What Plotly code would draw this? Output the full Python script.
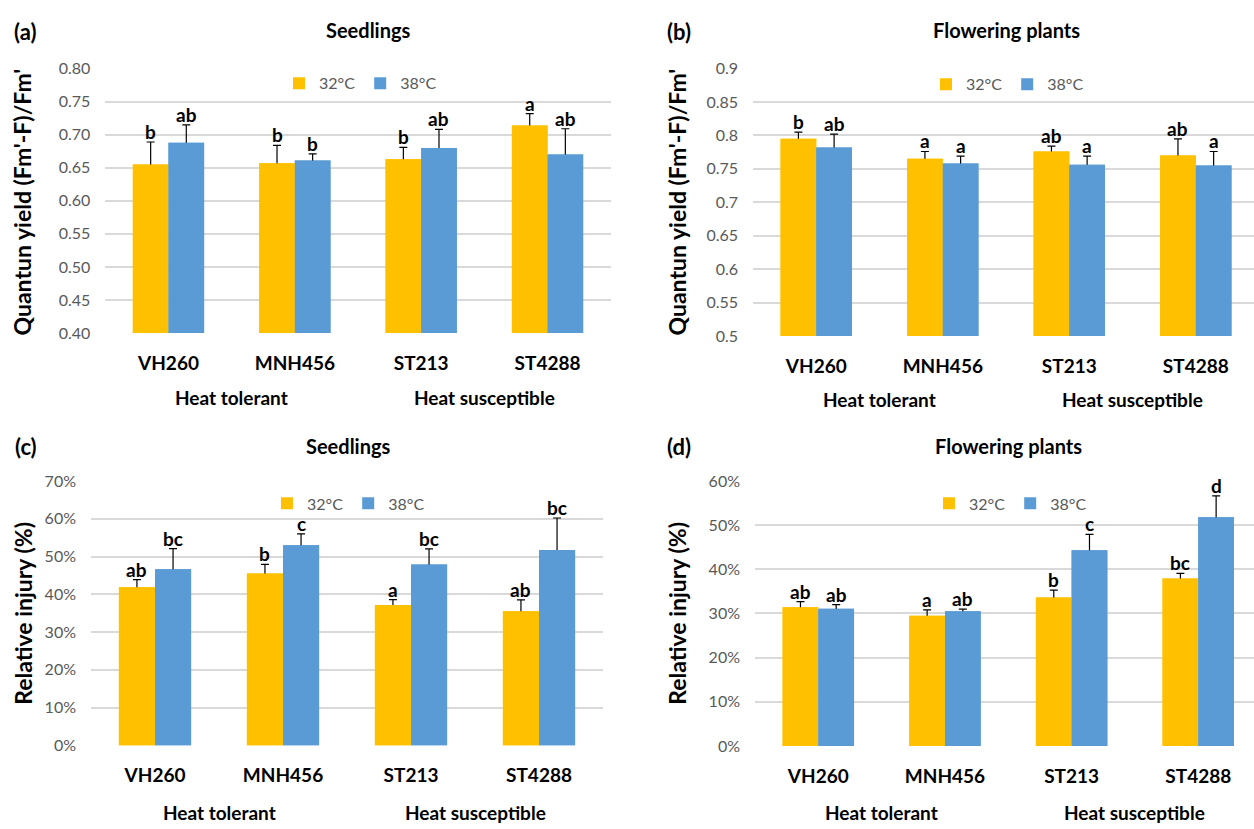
import plotly.graph_objects as go

# ---------------------------------------------------------------- data
cultivars = ["VH260", "MNH456", "ST213", "ST4288"]
temperatures = ["32°C", "38°C"]
tolerance_groups = ["Heat tolerant", "Heat susceptible"]

# (a) quantum yield, seedlings
yield_seed_32 = [0.655, 0.657, 0.663, 0.714]
yield_seed_32_se = [0.034, 0.027, 0.018, 0.018]
yield_seed_38 = [0.688, 0.661, 0.680, 0.670]
yield_seed_38_se = [0.027, 0.010, 0.028, 0.039]
yield_seed_32_sig = ["b", "b", "b", "a"]
yield_seed_38_sig = ["ab", "b", "ab", "ab"]

# (b) quantum yield, flowering plants
yield_flow_32 = [0.795, 0.765, 0.776, 0.770]
yield_flow_32_se = [0.010, 0.011, 0.008, 0.025]
yield_flow_38 = [0.782, 0.758, 0.756, 0.755]
yield_flow_38_se = [0.020, 0.011, 0.013, 0.021]
yield_flow_32_sig = ["b", "a", "ab", "ab"]
yield_flow_38_sig = ["ab", "a", "a", "a"]

# (c) relative injury (%), seedlings
injury_seed_32 = [41.9, 45.5, 37.2, 35.5]
injury_seed_32_se = [2.0, 2.4, 1.4, 3.0]
injury_seed_38 = [46.6, 53.0, 47.9, 51.7]
injury_seed_38_se = [5.5, 3.0, 4.1, 8.5]
injury_seed_32_sig = ["ab", "b", "a", "ab"]
injury_seed_38_sig = ["bc", "c", "bc", "bc"]

# (d) relative injury (%), flowering plants
injury_flow_32 = [31.4, 29.5, 33.6, 37.9]
injury_flow_32_se = [1.3, 1.3, 1.7, 1.2]
injury_flow_38 = [31.1, 30.5, 44.3, 51.8]
injury_flow_38_se = [0.9, 0.5, 3.6, 4.8]
injury_flow_32_sig = ["ab", "a", "b", "bc"]
injury_flow_38_sig = ["ab", "ab", "c", "d"]

# ---------------------------------------------------------------- style
W, H = 1254, 829
ORANGE = "#FFC000"
BLUE = "#5B9BD5"
GRID = "#D9D9D9"
TICK_GREY = "#595959"
FONT = "Lato"
BARGAP = 0.436
HALF = (1 - BARGAP) / 4  # distance from a category centre to each bar centre


def fx(px):
    return px / W


def fy(px):
    return 1 - px / H


panels = [
    dict(tag="(a)", title="Seedlings", ytitle="Quantun yield (Fm'-F)/Fm'",
         xdom=(105.3, 610.7), ydom=(60, 330.6), xrange=[-0.5, 3.5],
         yrange=[0.4, 0.8], dtick=0.05, fmt=".2f", suffix="",
         v32=yield_seed_32, e32=yield_seed_32_se, s32=yield_seed_32_sig,
         v38=yield_seed_38, e38=yield_seed_38_se, s38=yield_seed_38_sig,
         tag_xy=(25, 22), title_xy=(368, 20), ytitle_xy=(22, 197),
         legend_xy=(279, 75), group_y=397),
    dict(tag="(b)", title="Flowering plants", ytitle="Quantun yield (Fm'-F)/Fm'",
         xdom=(753, 1254), ydom=(60, 333.6), xrange=[-0.5, 3.46],
         yrange=[0.5, 0.9], dtick=0.05, fmt="", suffix="",
         v32=yield_flow_32, e32=yield_flow_32_se, s32=yield_flow_32_sig,
         v38=yield_flow_38, e38=yield_flow_38_se, s38=yield_flow_38_sig,
         tag_xy=(679, 22), title_xy=(1007, 20), ytitle_xy=(677, 197),
         legend_xy=(926, 76), group_y=399),
    dict(tag="(c)", title="Seedlings", ytitle="Relative injury (%)",
         xdom=(91, 603), ydom=(482, 752.7), xrange=[-0.5, 3.5],
         yrange=[0, 70], dtick=10, fmt="", suffix="%",
         v32=injury_seed_32, e32=injury_seed_32_se, s32=injury_seed_32_sig,
         v38=injury_seed_38, e38=injury_seed_38_se, s38=injury_seed_38_sig,
         tag_xy=(26, 447), title_xy=(348, 446), ytitle_xy=(23, 618),
         legend_xy=(267, 505), group_y=821),
    dict(tag="(d)", title="Flowering plants", ytitle="Relative injury (%)",
         xdom=(755, 1254), ydom=(482, 753.3), xrange=[-0.5, 3.44],
         yrange=[0, 60], dtick=10, fmt="", suffix="%",
         v32=injury_flow_32, e32=injury_flow_32_se, s32=injury_flow_32_sig,
         v38=injury_flow_38, e38=injury_flow_38_se, s38=injury_flow_38_sig,
         tag_xy=(679, 447), title_xy=(1008, 446), ytitle_xy=(677, 618),
         legend_xy=(929, 505), group_y=821),
]

fig = go.Figure()
layout = dict(
    width=W, height=H,
    margin=dict(l=0, r=0, t=0, b=0),
    paper_bgcolor="white", plot_bgcolor="white",
    barmode="group", bargap=BARGAP, bargroupgap=0,
    font=dict(family=FONT, color="black"),
    annotations=[],
)

bold = dict(family=FONT, weight="bold", color="black")

for k, p in enumerate(panels, start=1):
    sfx = "" if k == 1 else str(k)
    xa, ya, leg = "x" + sfx, "y" + sfx, "legend" + sfx
    series = [
        (temperatures[0], p["v32"], p["e32"], p["s32"], ORANGE, "t32", -HALF),
        (temperatures[1], p["v38"], p["e38"], p["s38"], BLUE, "t38", HALF),
    ]

    # bars carrying the error whiskers
    for name, vals, errs, _, colour, grp, _ in series:
        fig.add_trace(go.Bar(
            x=cultivars, y=vals, xaxis=xa, yaxis=ya, offsetgroup=grp,
            marker=dict(color=colour, line=dict(width=0)),
            error_y=dict(type="data", array=errs, color="black",
                         thickness=1.2, width=4),
            showlegend=False, hoverinfo="skip",
        ))
    # the same bars drawn on top so only the upper whisker stays visible
    for name, vals, errs, _, colour, grp, _ in series:
        fig.add_trace(go.Bar(
            x=cultivars, y=vals, xaxis=xa, yaxis=ya, offsetgroup=grp,
            marker=dict(color=colour, line=dict(width=0)),
            name=name, legend=leg, showlegend=True,
        ))

    # significance letters above the whiskers
    for name, vals, errs, letters, colour, grp, shift in series:
        for i, (v, e, s) in enumerate(zip(vals, errs, letters)):
            layout["annotations"].append(dict(
                x=i + shift, y=v + e, xref=xa, yref=ya, xanchor="center",
                text=s, showarrow=False, yanchor="bottom", yshift=-3,
                font=dict(size=19, **bold),
            ))

    layout["xaxis" + sfx] = dict(
        domain=[fx(p["xdom"][0]), fx(p["xdom"][1])], anchor=ya,
        range=p["xrange"], showgrid=False, zeroline=False, showline=False,
        ticks="", tickfont=dict(size=19, **bold), ticklabelstandoff=17,
        fixedrange=True,
    )
    layout["yaxis" + sfx] = dict(
        domain=[fy(p["ydom"][1]), fy(p["ydom"][0])], anchor=xa,
        range=p["yrange"], dtick=p["dtick"], tickformat=p["fmt"],
        ticksuffix=p["suffix"], showgrid=True, gridcolor=GRID, gridwidth=2,
        zeroline=False, showline=False, ticks="",
        tickfont=dict(size=16, family=FONT, color=TICK_GREY),
        ticklabelstandoff=14, fixedrange=True,
    )
    layout[leg] = dict(
        orientation="h", x=fx(p["legend_xy"][0]), y=fy(p["legend_xy"][1]),
        xanchor="left", yanchor="middle", bgcolor="rgba(0,0,0,0)",
        font=dict(size=16, family=FONT, color=TICK_GREY),
        traceorder="normal", itemclick=False, itemdoubleclick=False,
    )

    # group labels under the cultivar names
    for j, g in enumerate(tolerance_groups):
        layout["annotations"].append(dict(
            x=2 * j + 0.5, y=fy(p["group_y"]), xref=xa, yref="paper",
            text=g, showarrow=False, xanchor="center", yanchor="middle",
            font=dict(size=19, **bold),
        ))

    # panel tag, title and y-axis title
    layout["annotations"] += [
        dict(x=fx(p["tag_xy"][0]), y=fy(p["tag_xy"][1]), xref="paper",
             yref="paper", text=p["tag"], showarrow=False,
             xanchor="center", yanchor="middle",
             font=dict(size=22, **bold)),
        dict(x=fx(p["title_xy"][0]), y=fy(p["title_xy"][1]), xref="paper",
             yref="paper", text=p["title"], showarrow=False,
             xanchor="center", yanchor="middle",
             font=dict(size=20, **bold)),
        dict(x=fx(p["ytitle_xy"][0]), y=fy(p["ytitle_xy"][1]), xref="paper",
             yref="paper", text=p["ytitle"], showarrow=False, textangle=-90,
             xanchor="center", yanchor="middle", font=dict(size=23, **bold)),
    ]

fig.update_layout(**layout)
# the page body keeps no default margin so the figure fills the window exactly
fig.write_html(
    "out.html",
    config=dict(displayModeBar=False),
    post_script="document.body.style.margin='0';document.body.style.overflow='hidden';",
)
